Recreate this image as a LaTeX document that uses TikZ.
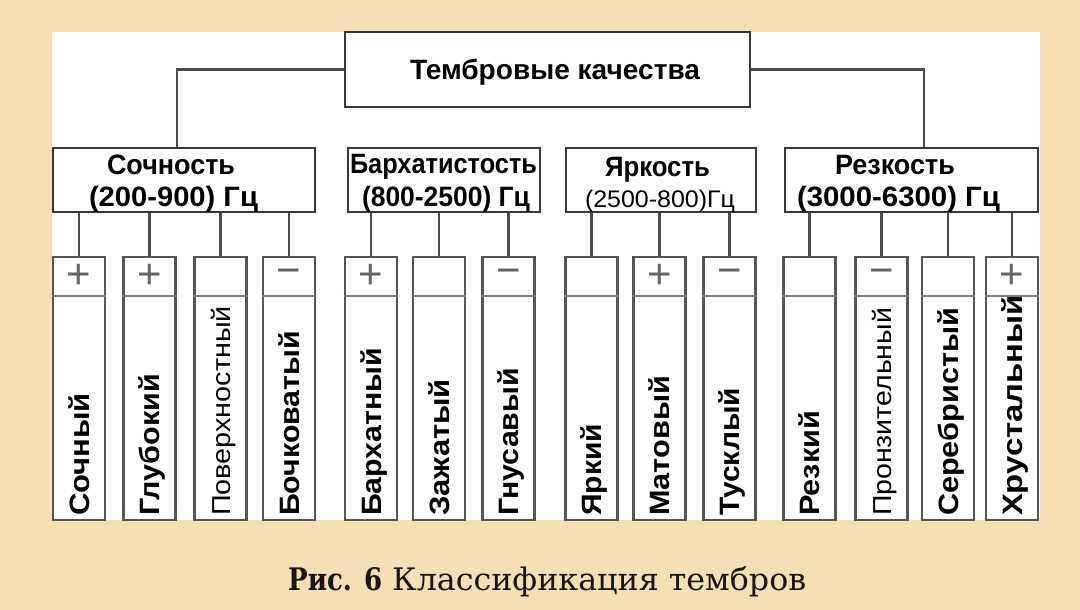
\documentclass[tikz,border=0pt]{standalone}
\usepackage{fontspec}
\usepackage{graphicx}
\setmainfont{Liberation Sans}
\newfontfamily\capfont{DejaVu Serif}
\definecolor{bg}{RGB}{245,223,181}
\definecolor{boxc}{RGB}{55,55,55}
\definecolor{leafc}{RGB}{85,85,85}
\definecolor{connc}{RGB}{75,75,75}
\definecolor{divc}{RGB}{125,125,125}
\definecolor{signc}{RGB}{100,100,100}
\definecolor{capc}{RGB}{25,22,18}
\newsavebox\fitbox
\newcommand\fitw[2]{\sbox\fitbox{#2}\pgfmathsetmacro\fitsx{#1/\the\wd\fitbox}\scalebox{\fitsx}[1]{\usebox\fitbox}}
\tikzset{
  box/.style={draw=boxc, line width=2.3pt, fill=white, inner sep=0pt},
  leaf/.style={draw=leafc, line width=2.3pt, fill=white, inner sep=0pt, minimum width=52pt, minimum height=263pt},
  conn/.style={draw=connc, line width=2.3pt},
  divline/.style={draw=divc, line width=2.6pt},
  lbl/.style={font=\fontsize{28}{32}\selectfont\bfseries, inner sep=0pt, anchor=base},
  lblr/.style={font=\fontsize{24}{28}\selectfont, inner sep=0pt, anchor=base},
  vl/.style={rotate=90, anchor=base west, inner sep=0pt, font=\fontsize{28}{32}\selectfont\bfseries},
  vlr/.style={rotate=90, anchor=base west, inner sep=0pt, font=\fontsize{26}{30}\selectfont},
  sign/.style={font=\fontsize{42}{42}\selectfont, text=signc, inner sep=0pt},
}
\begin{document}
\begin{tikzpicture}[x=1pt,y=-1pt]
\useasboundingbox (0,0) rectangle (1080,610);
\fill[bg] (0,0) rectangle (1080,610);
\fill[white] (52,32) rectangle (1040,520);

% top box
\node[box, minimum width=405pt, minimum height=75pt] (top) at (547.5,69.5) {};
\node[lbl] (topT) at (555,80) {\fitw{290}{Тембровые качества}};

% level 2 boxes
\node[box, minimum width=262pt, minimum height=64pt] (soch) at (184,180) {};
\node[box, minimum width=192pt, minimum height=64pt] (barh) at (444,180) {};
\node[box, minimum width=190pt, minimum height=64pt] (jark) at (661,180) {};
\node[box, minimum width=253pt, minimum height=64pt] (rezk) at (911.5,180) {};

\node[lbl] (sochA) at (171,174) {\fitw{128}{Сочность}};
\node[lbl] (sochB) at (173.5,206) {\fitw{169}{(200-900) Гц}};
\node[lbl] (barhA) at (443.5,173) {\fitw{187}{Бархатистость}};
\node[lbl] (barhB) at (446,206) {\fitw{168}{(800-2500) Гц}};
\node[lbl] (jarkA) at (657.5,176) {\fitw{105}{Яркость}};
\node[lblr] (jarkB) at (660,207) {\fitw{150}{(2500-800)Гц}};
\node[lbl] (rezkA) at (895,174) {\fitw{120}{Резкость}};
\node[lbl] (rezkB) at (898.5,206) {\fitw{203}{(3000-6300) Гц}};

% connectors from top
\draw[conn] (top.west) -| ([xshift=-7pt]soch.north);
\draw[conn] (top.east) -| ([xshift=12.5pt]rezk.north);

% leaves
\foreach \i/\cx/\pa/\st/\L/\t in {
 1/79/soch/vl/123/Сочный,
 2/149.5/soch/vl/142/Глубокий,
 3/220.5/soch/vlr/210/Поверхностный,
 4/289/soch/vl/185/Бочковатый,
 5/371/barh/vl/168/Бархатный,
 6/439/barh/vl/137/Зажатый,
 7/508.5/barh/vl/148/Гнусавый,
 8/591.5/jark/vl/92/Яркий,
 9/659.5/jark/vl/140/Матовый,
 10/729.5/jark/vl/128/Тусклый,
 11/809.5/rezk/vl/105/Резкий,
 12/881.5/rezk/vlr/208/Пронзительный,
 13/948/rezk/vl/208/Серебристый,
 14/1012/rezk/vl/221/Хрустальный}
{
  \node[leaf] (l\i) at (\cx,388.5) {};
  \draw[divline] ([yshift=-40pt]l\i.north west) -- ([yshift=-40pt]l\i.north east);
  \draw[conn] (l\i.north) -- (l\i.north |- \pa.south);
  \node[\st] (t\i) at ([xshift=10pt,yshift=5pt]l\i.south) {\fitw{\L}{\t}};
}

% signs
\node[sign] (s1) at ([yshift=-21pt]l1.north) {+};
\node[sign] (s2) at ([yshift=-21pt]l2.north) {+};
\node[sign] (s4) at ([yshift=-21pt]l4.north) {−};
\node[sign] (s5) at ([yshift=-21pt]l5.north) {+};
\node[sign] (s7) at ([yshift=-21pt]l7.north) {−};
\node[sign] (s9) at ([yshift=-21pt]l9.north) {+};
\node[sign] (s10) at ([yshift=-21pt]l10.north) {−};
\node[sign] (s12) at ([yshift=-21pt]l12.north) {−};
\node[sign] (s14) at ([yshift=-21pt]l14.north) {+};

% caption
\node[anchor=base west, inner sep=0pt, text=capc, font=\capfont\fontsize{31}{35}\selectfont] (cap) at (288,590) {\fitw{94}{\textbf{Рис. 6}}\hspace{10pt}\fitw{414}{Классификация тембров}};
\end{tikzpicture}
\end{document}
